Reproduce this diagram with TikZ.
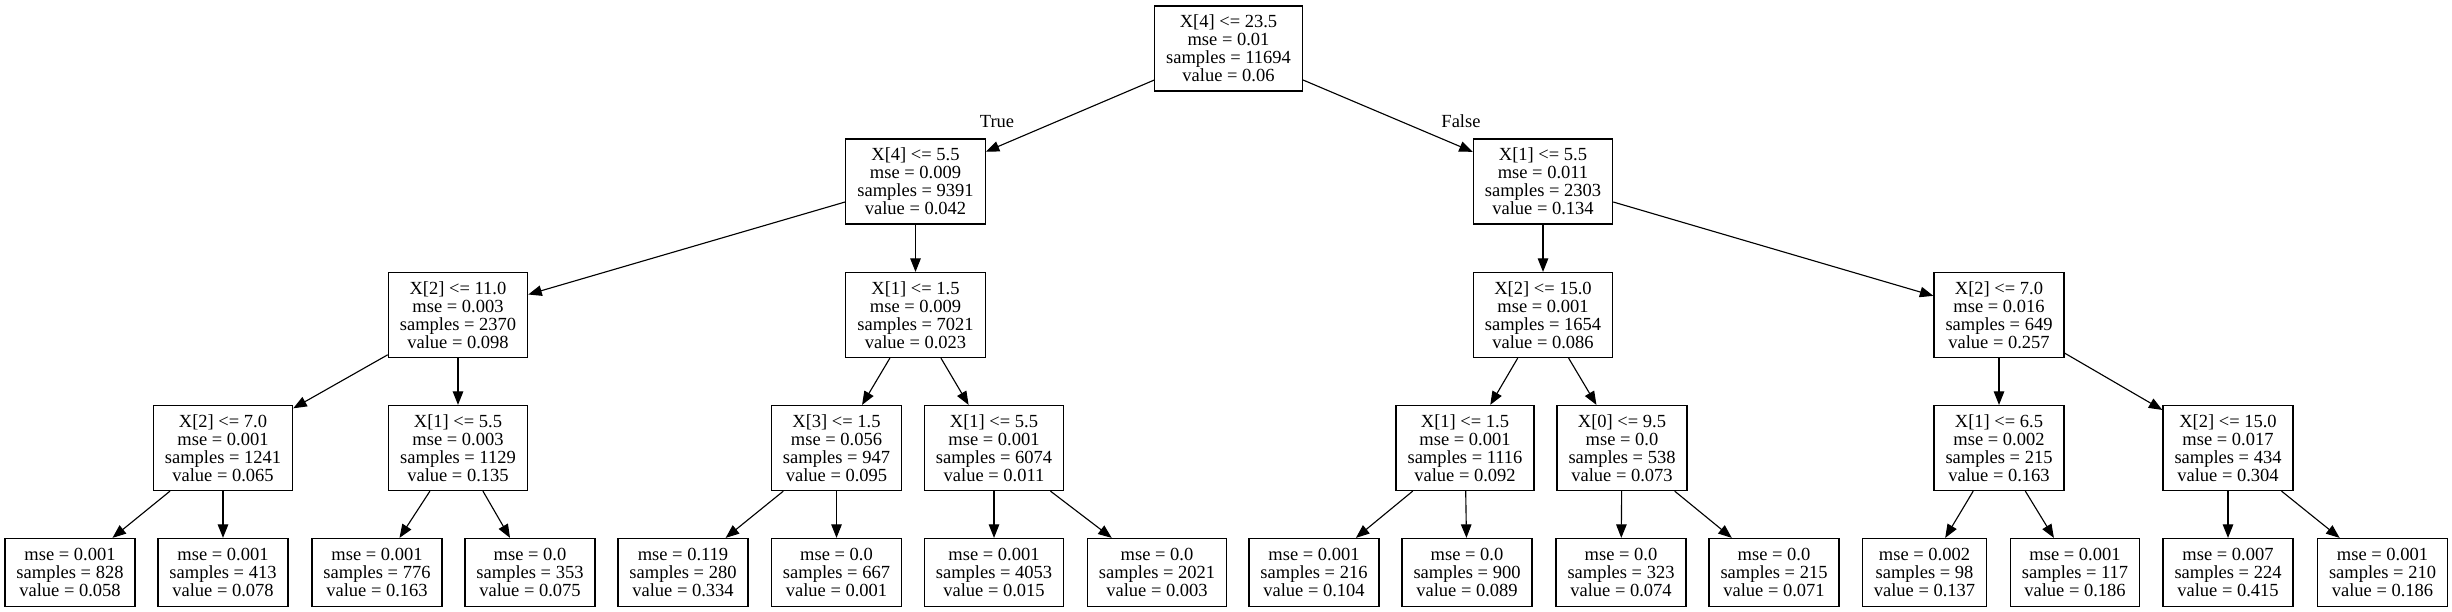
\documentclass[tikz,border=0pt]{standalone}
\usepackage{fontspec}
\setmainfont{Liberation Serif}
\usepackage{tikz}
\usetikzlibrary{arrows.meta, positioning}

\begin{document}
\begin{tikzpicture}[x=0.8pt, y=-0.8pt,
  treetext/.style={font=\fontsize{14.8pt}{14.5pt}\selectfont},
  splitnode/.style={treetext, draw, line width=1pt, align=center, inner xsep=9.2pt, inner ysep=0pt, minimum height=68pt},
  leafnode/.style={splitnode, minimum height=54.4pt},
  treeedge/.style={line width=0.9pt, -{Triangle[length=10.8pt, width=8.4pt]}}]
  \useasboundingbox (0,0) rectangle (2452,611);

  \node[splitnode] (n0) at (1228.5,48.5) {X[4] <= 23.5\\mse = 0.01\\samples = 11694\\value = 0.06};

  \node[splitnode] (n1) at (915.5,181.5) {X[4] <= 5.5\\mse = 0.009\\samples = 9391\\value = 0.042};
  \node[splitnode] (n16) at (1543,181.5) {X[1] <= 5.5\\mse = 0.011\\samples = 2303\\value = 0.134};

  \node[splitnode] (n2) at (458,315) {X[2] <= 11.0\\mse = 0.003\\samples = 2370\\value = 0.098};
  \node[splitnode] (n9) at (915.5,315) {X[1] <= 1.5\\mse = 0.009\\samples = 7021\\value = 0.023};
  \node[splitnode] (n17) at (1543,315) {X[2] <= 15.0\\mse = 0.001\\samples = 1654\\value = 0.086};
  \node[splitnode] (n24) at (1999,315) {X[2] <= 7.0\\mse = 0.016\\samples = 649\\value = 0.257};

  \node[splitnode] (n3) at (223,448) {X[2] <= 7.0\\mse = 0.001\\samples = 1241\\value = 0.065};
  \node[splitnode] (n6) at (458,448) {X[1] <= 5.5\\mse = 0.003\\samples = 1129\\value = 0.135};
  \node[splitnode] (n10) at (836.5,448) {X[3] <= 1.5\\mse = 0.056\\samples = 947\\value = 0.095};
  \node[splitnode] (n13) at (994,448) {X[1] <= 5.5\\mse = 0.001\\samples = 6074\\value = 0.011};
  \node[splitnode] (n18) at (1465,448) {X[1] <= 1.5\\mse = 0.001\\samples = 1116\\value = 0.092};
  \node[splitnode] (n21) at (1622,448) {X[0] <= 9.5\\mse = 0.0\\samples = 538\\value = 0.073};
  \node[splitnode] (n25) at (1999,448) {X[1] <= 6.5\\mse = 0.002\\samples = 215\\value = 0.163};
  \node[splitnode] (n28) at (2228,448) {X[2] <= 15.0\\mse = 0.017\\samples = 434\\value = 0.304};

  \node[leafnode] (n4) at (70,572.5) {mse = 0.001\\samples = 828\\value = 0.058};
  \node[leafnode] (n5) at (223,572.5) {mse = 0.001\\samples = 413\\value = 0.078};
  \node[leafnode] (n7) at (377,572.5) {mse = 0.001\\samples = 776\\value = 0.163};
  \node[leafnode] (n8) at (530,572.5) {mse = 0.0\\samples = 353\\value = 0.075};
  \node[leafnode] (n11) at (683,572.5) {mse = 0.119\\samples = 280\\value = 0.334};
  \node[leafnode] (n12) at (836.5,572.5) {mse = 0.0\\samples = 667\\value = 0.001};
  \node[leafnode] (n14) at (994,572.5) {mse = 0.001\\samples = 4053\\value = 0.015};
  \node[leafnode] (n15) at (1157,572.5) {mse = 0.0\\samples = 2021\\value = 0.003};
  \node[leafnode] (n19) at (1314,572.5) {mse = 0.001\\samples = 216\\value = 0.104};
  \node[leafnode] (n20) at (1467,572.5) {mse = 0.0\\samples = 900\\value = 0.089};
  \node[leafnode] (n22) at (1621,572.5) {mse = 0.0\\samples = 323\\value = 0.074};
  \node[leafnode] (n23) at (1774,572.5) {mse = 0.0\\samples = 215\\value = 0.071};
  \node[leafnode] (n26) at (1924.5,572.5) {mse = 0.002\\samples = 98\\value = 0.137};
  \node[leafnode] (n27) at (2075,572.5) {mse = 0.001\\samples = 117\\value = 0.186};
  \node[leafnode] (n29) at (2228,572.5) {mse = 0.007\\samples = 224\\value = 0.415};
  \node[leafnode] (n30) at (2382.5,572.5) {mse = 0.001\\samples = 210\\value = 0.186};

  \node[treetext] (truelabel) at (997,121.5) {True};
  \node[treetext] (falselabel) at (1461,121.5) {False};

  \foreach \a/\b in {0/1, 0/16, 1/2, 1/9, 2/3, 2/6, 3/4, 3/5, 6/7, 6/8, 9/10, 9/13, 10/11, 10/12, 13/14, 13/15,
                     16/17, 16/24, 17/18, 17/21, 18/19, 18/20, 21/22, 21/23, 24/25, 24/28, 25/26, 25/27, 28/29, 28/30}
    \draw[treeedge] (n\a) -- (n\b);
\end{tikzpicture}
\end{document}
